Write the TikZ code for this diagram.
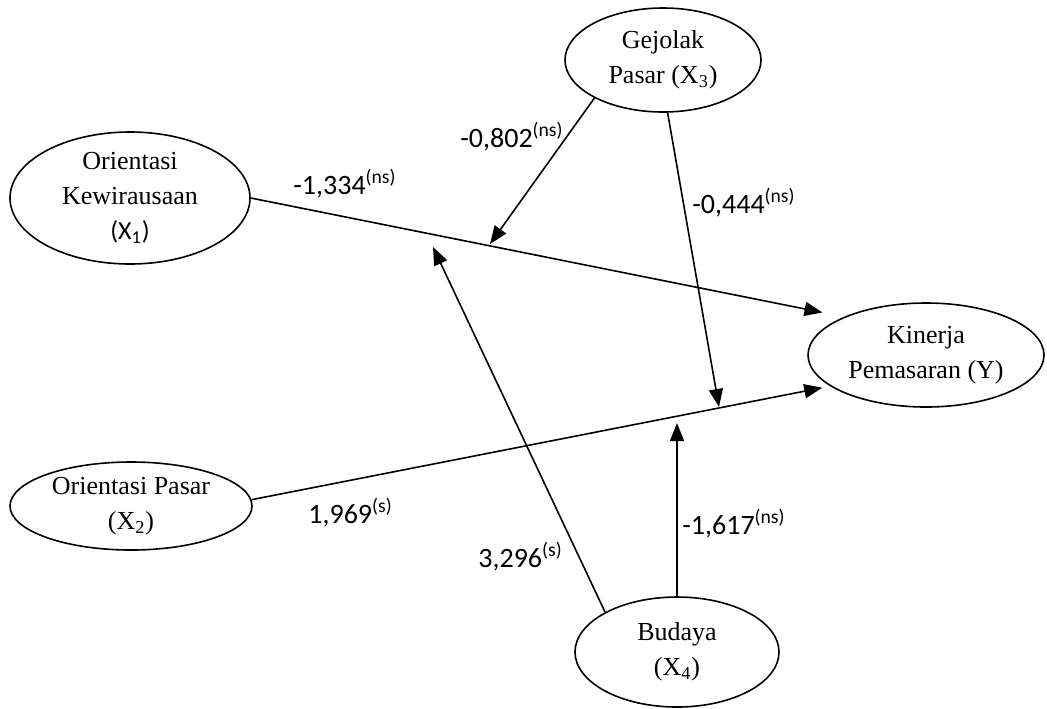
\documentclass[tikz,border=0pt]{standalone}
\usepackage{fontspec}
\setmainfont{Liberation Serif}
\newfontfamily\calibri{Carlito}
\usetikzlibrary{arrows.meta}
\usetikzlibrary{shapes.geometric}

\begin{document}
\begin{tikzpicture}[
    x=0.5pt, y=-0.5pt,
    var/.style={ellipse, draw, line width=0.8pt, inner sep=0pt, align=center, font=\fontsize{13}{17.5}\selectfont},
    coef/.style={anchor=base west, inner sep=0pt, font=\calibri\fontsize{14}{17}\selectfont},
    arrow/.style={-{Triangle[length=9pt,width=7pt]}, line width=0.8pt}
]
    \useasboundingbox (0,0) rectangle (1047,708);

    % Variables
    \node[var, minimum width=120pt, minimum height=66pt] (x1) at (130,198) {Orientasi\\Kewirausaan\\{\calibri (X\textsubscript{1})}};
    \node[var, minimum width=121pt, minimum height=44pt] (x2) at (131,506) {Orientasi Pasar\\(X\textsubscript{2})};
    \node[var, minimum width=98pt, minimum height=52pt] (x3) at (663,60) {Gejolak\\Pasar (X\textsubscript{3})};
    \node[var, minimum width=102pt, minimum height=55pt] (x4) at (677,652) {Budaya\\(X\textsubscript{4})};
    \node[var, minimum width=118pt, minimum height=52pt] (y) at (926,355) {Kinerja\\Pemasaran (Y)};

    % Direct paths
    \draw[arrow, shorten >=11pt] (x1.east) -- (y.155);
    \draw[arrow, shorten >=4pt] (x2.3) -- (y.198);

    % Moderation points
    \coordinate (m1) at (490,244);
    \coordinate (m2) at (433,247);
    \coordinate (m3) at (719,407);
    \coordinate (m4) at (677,423);

    \draw[arrow] (x3.209) -- (m1);
    \draw[arrow] (x3.275) -- (m3);
    \draw[arrow] (x4.151) -- (m2);
    \draw[arrow] (x4.north) -- (m4);

    % Coefficients
    \node[coef] (c1) at (293,194) {-1,334\textsuperscript{(ns)}};
    \node[coef] (c2) at (308,523) {1,969\textsuperscript{(s)}};
    \node[coef] (c3) at (460,147) {-0,802\textsuperscript{(ns)}};
    \node[coef] (c4) at (692,213) {-0,444\textsuperscript{(ns)}};
    \node[coef] (c5) at (478,567) {3,296\textsuperscript{(s)}};
    \node[coef] (c6) at (682,534) {-1,617\textsuperscript{(ns)}};
\end{tikzpicture}
\end{document}
